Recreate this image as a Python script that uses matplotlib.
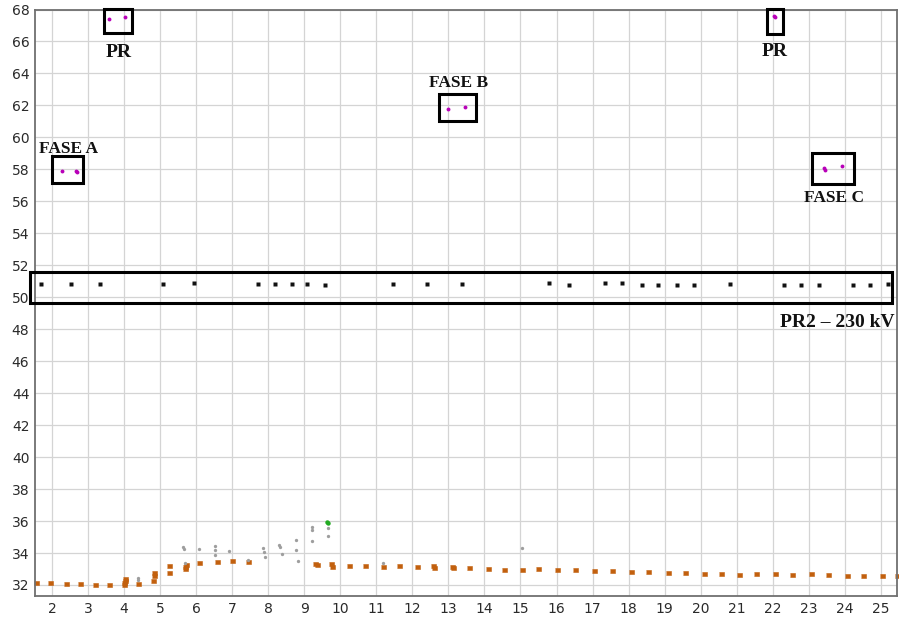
import matplotlib
matplotlib.use("Agg")
import matplotlib.pyplot as plt
from matplotlib.patches import Rectangle

# --- measured points -------------------------------------------------------
# main (brown/orange) trace
orange_x = [1.56, 1.94, 2.39, 2.78, 3.19, 3.58,
            4.01, 4.01, 4.02, 4.03, 4.38,
            4.81, 4.83, 4.84, 5.26, 5.26,
            5.69, 5.70, 5.72, 6.09, 6.57, 6.99, 7.45,
            9.30, 9.35, 9.73, 9.76,
            10.25, 10.69, 11.18, 11.63, 12.14, 12.58, 12.60, 13.09, 13.14,
            13.58, 14.09, 14.54, 15.03, 15.49, 16.02, 16.51, 17.04, 17.53,
            18.07, 18.55, 19.08, 19.56, 20.09, 20.55, 21.07, 21.53, 22.06,
            22.54, 23.06, 23.54, 24.05, 24.51, 25.02, 25.46]
orange_y = [32.14, 32.10, 32.08, 32.04, 32.02, 31.98,
            32.00, 32.12, 32.25, 32.38, 32.06,
            32.27, 32.58, 32.75, 32.73, 33.19,
            33.02, 33.12, 33.25, 33.35, 33.46, 33.48, 33.46,
            33.33, 33.22, 33.29, 33.14,
            33.20, 33.19, 33.14, 33.20, 33.10, 33.19, 33.06, 33.14, 33.06,
            33.06, 33.00, 32.96, 32.96, 32.98, 32.92, 32.94, 32.90, 32.85,
            32.83, 32.79, 32.77, 32.75, 32.69, 32.69, 32.62, 32.69, 32.67,
            32.65, 32.67, 32.61, 32.58, 32.58, 32.58, 32.58]

# secondary (grey) points
gray_x = [4.39, 4.40, 5.64, 5.67, 5.70, 6.09, 6.52, 6.52, 6.52, 6.91, 7.45,
          7.85, 7.88, 7.91, 8.31, 8.33, 8.37, 8.77, 8.78, 8.82,
          9.23, 9.23, 9.23, 9.67, 9.67, 11.18, 15.03]
gray_y = [32.30, 32.45, 34.40, 34.25, 33.35, 34.24, 34.42, 34.18, 33.90, 34.12, 33.58,
          34.32, 34.05, 33.75, 34.50, 34.36, 33.96, 34.82, 34.20, 33.50,
          35.65, 35.45, 34.75, 35.55, 35.09, 33.36, 34.30]

green_x = [9.62, 9.65]
green_y = [35.96, 35.86]

# PR2 - 230 kV points
black_x = [1.69, 2.53, 3.33, 5.07, 5.93, 7.73, 8.19, 8.66, 9.08, 9.57, 11.47,
           12.42, 13.39, 15.79, 16.35, 17.34, 17.82, 18.36, 18.81, 19.33,
           19.82, 20.81, 22.32, 22.78, 23.27, 24.23, 24.70, 25.19]
black_y = [50.84, 50.84, 50.84, 50.84, 50.90, 50.84, 50.84, 50.84, 50.84, 50.77, 50.84,
           50.84, 50.84, 50.89, 50.78, 50.89, 50.89, 50.78, 50.78, 50.78,
           50.78, 50.84, 50.78, 50.78, 50.78, 50.78, 50.78, 50.84]

# phase / PR points
mag_x = [2.27, 2.67, 2.70, 3.59, 4.03, 13.00, 13.46, 22.04, 22.05, 23.41, 23.45, 23.93]
mag_y = [57.89, 57.90, 57.86, 67.40, 67.52, 61.77, 61.89, 67.60, 67.55, 58.11, 57.97, 58.18]

x_ticks = list(range(2, 26))
y_ticks = list(range(32, 69, 2))

# --- figure ----------------------------------------------------------------
fig = plt.figure(figsize=(8.99, 6.22), dpi=100)
ax = fig.add_axes([0.0389, 0.0418, 0.9594, 0.9429])
ax.set_xlim(1.53, 25.46)
ax.set_ylim(31.31, 68.0)

ax.set_xticks(x_ticks)
ax.set_yticks(y_ticks)
ax.grid(True, color="#d4d4d4", lw=0.9)
ax.set_axisbelow(True)
ax.tick_params(length=0, labelsize=10, labelcolor="#2a2a2a", pad=4)
for s in ax.spines.values():
    s.set_color("#707070")
    s.set_linewidth(1.3)

dash = [(-1.6, -1.0), (1.6, -1.0), (1.6, 1.0), (-1.6, 1.0)]
ax.plot(orange_x, orange_y, ls="none", marker=dash, ms=3.6, mew=0.4,
        color="#c2600e", mec="#c2600e", clip_on=False)
ax.plot(gray_x, gray_y, ls="none", marker="o", ms=2.4,
        color="#9e9e9e", mec="none")
ax.plot(green_x, green_y, ls="none", marker="o", ms=3.2,
        color="#22aa22", mec="none")
ax.plot(black_x, black_y, ls="none", marker="s", ms=2.4,
        color="#111111", mec="none")
ax.plot(mag_x, mag_y, ls="none", marker="o", ms=2.8,
        color="#b800b8", mec="none")

# annotation boxes
boxes = [
    (2.01, 57.14, 2.87, 58.86),
    (3.45, 66.56, 4.21, 68.04),
    (12.74, 61.02, 13.77, 62.72),
    (21.83, 66.48, 22.29, 68.03),
    (23.10, 57.09, 24.26, 59.05),
    (1.39, 49.66, 25.32, 51.60),
]
for x0, y0, x1, y1 in boxes:
    ax.add_patch(Rectangle((x0, y0), x1 - x0, y1 - y0, fill=False,
                           ec="black", lw=2.2, clip_on=False, zorder=5))

lab = dict(family="Liberation Serif", weight="bold", color="#111111",
           va="baseline", zorder=6)
ax.text(2.47, 59.01, "FASE A", ha="center", fontsize=12.5, **lab)
ax.text(3.85, 65.02, "PR", ha="center", fontsize=14, **lab)
ax.text(13.29, 63.14, "FASE B", ha="center", fontsize=12.5, **lab)
ax.text(22.06, 65.10, "PR", ha="center", fontsize=14, **lab)
ax.text(23.71, 55.95, "FASE C", ha="center", fontsize=12.5, **lab)
ax.text(25.39, 48.16, "PR2 – 230 kV", ha="right", fontsize=14, **lab)

fig.savefig("out.png", dpi=100)
